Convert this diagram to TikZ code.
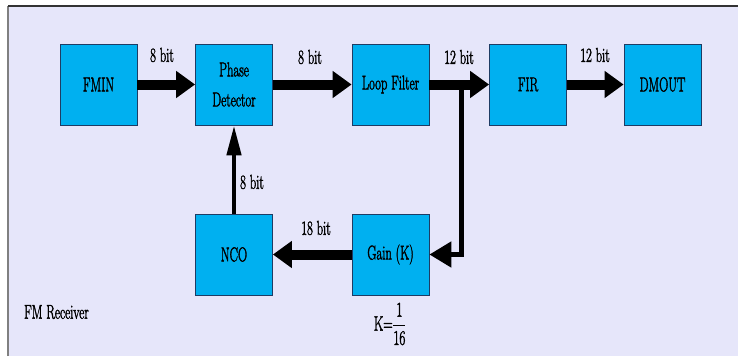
\documentclass[tikz,border=0pt]{standalone}
\usepackage{graphicx}
\usetikzlibrary{arrows.meta}
\definecolor{bgcol}{RGB}{230,230,250}
\definecolor{boxcol}{RGB}{0,176,240}
\definecolor{boxline}{RGB}{30,60,100}
\newcommand{\sq}[1]{\scalebox{0.63}[1]{\special{pdf:literal direct 2 Tr 0.5 w 0 G}#1}}
\tikzset{
  blk/.style={draw=boxline, line width=0.8pt, fill=boxcol, minimum width=77pt, minimum height=81pt, inner sep=0pt, align=center, font=\fontsize{20}{30}\selectfont},
  lbl/.style={inner sep=0pt, font=\fontsize{20}{24}\selectfont},
  bigarrow/.style={line width=10pt, -{Triangle[length=19pt, width=26pt]}},
  thinarrow/.style={line width=5pt, -{Triangle[length=22pt, width=25pt]}},
  uparrow/.style={line width=4.5pt, -{Triangle[length=30pt, width=14pt]}}
}
\begin{document}
\begin{tikzpicture}[x=1pt, y=-1pt]
\useasboundingbox (0,0) rectangle (738,356);
\fill[white] (0,0) rectangle (738,356);
\fill[bgcol] (8,6) rectangle (738,356);
\draw[gray, line width=1.2pt] (8,356) -- (8,6);
\draw[black!80, line width=1.5pt] (8,6) -- (738,6);

\node[blk] (fmin) at (98.5,84.5) {\sq{FMIN}};
\node[blk] (pd) at (234,84.5) {\sq{Phase}\\\sq{Detector}};
\node[blk] (lf) at (390.5,84.5) {\sq{Loop Filter}};
\node[blk] (fir) at (528,84.5) {\sq{FIR}};
\node[blk] (dm) at (662.5,84.5) {\sq{DMOUT}};
\node[blk] (nco) at (234,254.5) {\sq{NCO}};
\node[blk] (gain) at (390.5,254.5) {\sq{Gain (K)}};

\draw[bigarrow] (fmin.east) -- (pd.west);
\draw[bigarrow] (pd.east) -- (lf.west);
\draw[bigarrow] (lf.east) -- (fir.west);
\draw[bigarrow] (fir.east) -- (dm.west);
\coordinate (br) at (461,82);
\draw[thinarrow] (br) |- (gain.east);
\draw[bigarrow] (gain.west) -- (nco.east);
\draw[uparrow] (nco.north) -- (pd.south);

\node[lbl] (l1) at (162,55) {\sq{8 bit}};
\node[lbl] (l2) at (310,57) {\sq{8 bit}};
\node[lbl] (l3) at (459,57) {\sq{12 bit}};
\node[lbl] (l4) at (595,55) {\sq{12 bit}};
\node[lbl] (l5) at (252,182) {\sq{8 bit}};
\node[lbl] (l6) at (316,228) {\sq{18 bit}};
\node[lbl, font=\fontsize{22}{26}\selectfont] (k) at (390,324) {\sq{$\mathrm{K}{=}\displaystyle\frac{1}{16}$}};
\node[lbl, anchor=west] (title) at (24,312) {\sq{FM Receiver}};
\end{tikzpicture}
\end{document}
